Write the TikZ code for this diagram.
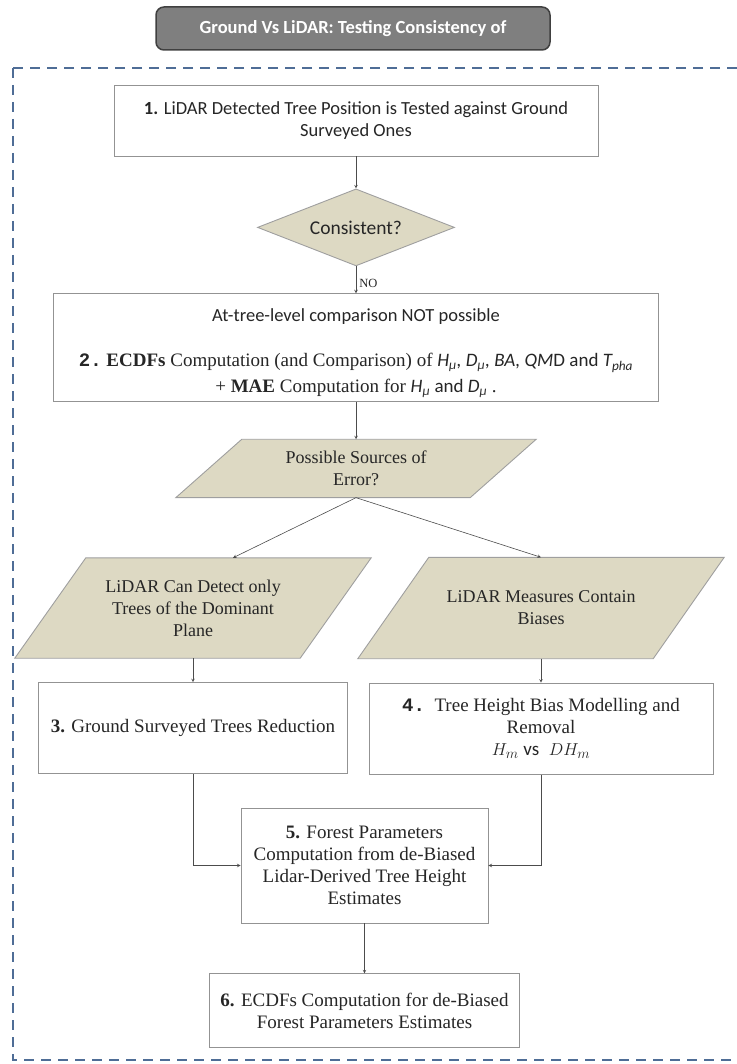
\documentclass[tikz,border=0pt]{standalone}
\usepackage{fontspec}
\setmainfont{Liberation Serif}
\newfontfamily\calibri{Carlito}
\newfontfamily\numfont{Liberation Mono}
\usetikzlibrary{shapes.geometric, arrows, positioning}
\pgfdeclarelayer{background}
\pgfsetlayers{background,main}
\definecolor{tanfill}{HTML}{DDD9C3}
\definecolor{frameblue}{HTML}{4F6D96}
\definecolor{titlegray}{HTML}{7F7F7F}

\begin{document}
\begin{tikzpicture}[
                x=1pt, y=1pt,
                node distance=30pt,
                every node/.style={font=\fontsize{19}{22}\selectfont, text=black!85},
                heading/.style={rectangle, rounded corners=8pt, draw=black!75, line width=1.5pt, fill=titlegray, text=white, font=\calibri\bfseries\fontsize{18.5}{21}\selectfont},
                stepbox/.style={rectangle, draw=gray!85, line width=0.9pt, fill=white, align=center, inner sep=2pt},
                decision/.style={diamond, aspect=2.56, draw=gray!75, line width=0.9pt, fill=tanfill, inner sep=0pt, align=center},
                source/.style={rectangle, inner sep=0pt, align=center, font=\fontsize{18}{22}\selectfont},
                sourceshape/.style={draw=gray!75, line width=0.9pt, fill=tanfill},
                frame/.style={draw=frameblue, line width=1.4pt, dash pattern=on 10pt off 7pt},
                arrow/.style={->,>=stealth, draw=black!70, line width=0.6pt}
            ]
                \useasboundingbox (0,0) rectangle (736,-1064);

                % Header and dashed frame
                \node (title) [heading, minimum width=394pt, minimum height=43pt] at (353,-28.5) {Ground Vs LiDAR: Testing Consistency of};
                \draw [frame] (13,-68) rectangle (760,-1060);

                % Nodes
                \node (pos) [stepbox, minimum width=484pt, minimum height=71pt, font=\calibri\fontsize{18.5}{22}\selectfont] at (356,-120.5) {\textbf{1.} LiDAR Detected Tree Position is Tested against Ground\\Surveyed Ones};
                \node (consistent) [decision, minimum width=197pt, minimum height=77pt, below=32pt of pos, font=\calibri\fontsize{19.5}{22}\selectfont] {Consistent?};
                \node (ecdf) [stepbox, minimum width=605pt, minimum height=108pt, below=27pt of consistent, font=\fontsize{19}{26}\selectfont] {\rule{0pt}{24pt}{\calibri\fontsize{18.5}{22}\selectfont At-tree-level comparison NOT possible}\\[19pt]
                    {\numfont\bfseries 2.}\ \textbf{ECDFs} Computation (and Comparison) of {\calibri\itshape H\textsubscript{μ}, D\textsubscript{μ}, BA, QM\upshape D and \itshape T\textsubscript{pha}}\\
                    + \textbf{MAE} Computation for {\calibri\itshape H\textsubscript{μ}\upshape{} and \itshape D\textsubscript{μ}} .};
                \node (sources) [source, minimum width=294pt, minimum height=58pt, below=37pt of ecdf] {Possible Sources of\\Error?};
                \node (plane) [source, minimum width=285pt, minimum height=100pt] at (193,-608) {LiDAR Can Detect only\\Trees of the Dominant\\Plane};
                \node (bias) [source, minimum width=295pt, minimum height=101pt] at (541,-608) {LiDAR Measures Contain\\Biases};
                \node (reduce) [stepbox, minimum width=309pt, minimum height=91pt, below=24pt of plane] {\textbf{3.} Ground Surveyed Trees Reduction};
                \node (model) [stepbox, minimum width=344pt, minimum height=91pt, below=24pt of bias] {{\numfont\bfseries 4.}\ \ Tree Height Bias Modelling and\\Removal\\$H_m$ {\calibri vs}\ \ $DH_m$};
                \node (params) [stepbox, minimum width=247pt, minimum height=115pt] at (364.5,-865.5) {\textbf{5.} Forest Parameters\\Computation from de-Biased\\Lidar-Derived Tree Height\\Estimates};
                \node (final) [stepbox, minimum width=310pt, minimum height=74pt, below=50pt of params] {\textbf{6.} ECDFs Computation for de-Biased\\Forest Parameters Estimates};

                % Slanted outlines behind the source nodes
                \begin{pgfonlayer}{background}
                    \foreach \n/\s in {sources/33, plane/35.5, bias/35.5}
                        \draw [sourceshape] ([xshift=\s pt]\n.north west) -- ([xshift=\s pt]\n.north east) -- ([xshift=-\s pt]\n.south east) -- ([xshift=-\s pt]\n.south west) -- cycle;
                \end{pgfonlayer}

                % Arrows
                \draw [arrow] (pos) -- (consistent);
                \draw [arrow] (consistent) -- node[right, pos=0.62, inner sep=3pt, font=\fontsize{12.5}{14}\selectfont] {NO} (ecdf);
                \draw [arrow] (ecdf) -- (sources);
                \draw [arrow] (sources.south) -- ([xshift=40pt]plane.north);
                \draw [arrow] (sources.south) -- (bias.north);
                \draw [arrow] (plane) -- (reduce);
                \draw [arrow] (bias) -- (model);
                \draw [arrow] (reduce.south) |- (params.west);
                \draw [arrow] (model.south) |- (params.east);
                \draw [arrow] (params) -- (final);

            \end{tikzpicture}
\end{document}
